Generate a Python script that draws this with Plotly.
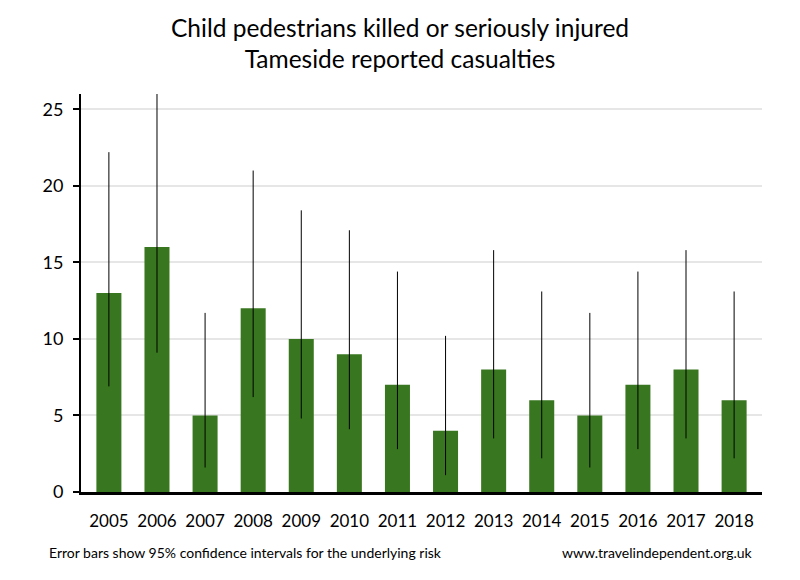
import plotly.graph_objects as go

years = ["2005", "2006", "2007", "2008", "2009", "2010", "2011", "2012", "2013", "2014", "2015", "2016", "2017", "2018"]
casualties = [13, 16, 5, 12, 10, 9, 7, 4, 8, 6, 5, 7, 8, 6]
ci_lower = [6.9, 9.1, 1.6, 6.2, 4.8, 4.1, 2.8, 1.1, 3.5, 2.2, 1.6, 2.8, 3.5, 2.2]
ci_upper = [22.2, 26.0, 11.7, 21.0, 18.4, 17.1, 14.4, 10.2, 15.8, 13.1, 11.7, 14.4, 15.8, 13.1]

err_plus = [u - v for u, v in zip(ci_upper, casualties)]
err_minus = [v - l for v, l in zip(casualties, ci_lower)]

FONT = "Lato, 'Open Sans', sans-serif"

fig = go.Figure()
fig.add_trace(go.Bar(
    x=years, y=casualties,
    marker=dict(color="#38761f", line=dict(width=0)),
    width=0.52,
    error_y=dict(type="data", symmetric=False, array=err_plus, arrayminus=err_minus,
                 color="black", thickness=1, width=0),
    showlegend=False,
))

fig.update_layout(
    width=800, height=580,
    paper_bgcolor="white", plot_bgcolor="white",
    margin=dict(l=81, r=38, t=94, b=88),
    font=dict(family=FONT, color="black"),
    title=dict(text="Child pedestrians killed or seriously injured<br>Tameside reported casualties",
               x=0.5, xanchor="center", y=0.937, yanchor="top",
               font=dict(size=24.5, family=FONT, color="black")),
)
fig.update_yaxes(
    range=[0, 26], tickvals=[0, 5, 10, 15, 20, 25],
    showgrid=True, gridcolor="#e6e6e6", gridwidth=2,
    showline=True, linecolor="black", linewidth=2,
    ticks="outside", ticklen=6, tickwidth=2, tickcolor="black",
    tickfont=dict(size=18, family=FONT), zeroline=False, ticklabelstandoff=6,
)
fig.update_xaxes(
    range=[-0.58, 13.58],
    showline=True, linecolor="black", linewidth=3,
    ticks="", tickfont=dict(size=17, family=FONT), ticklabelstandoff=12,
)
fig.add_annotation(text="Error bars show 95% confidence intervals for the underlying risk",
                   xref="paper", yref="paper", x=-0.05, y=-0.153, xanchor="left", yanchor="middle",
                   showarrow=False, font=dict(size=14, family=FONT))
fig.add_annotation(text="www.travelindependent.org.uk",
                   xref="paper", yref="paper", x=0.99, y=-0.153, xanchor="right", yanchor="middle",
                   showarrow=False, font=dict(size=14, family=FONT))

fig.write_html("out.html", config={"displayModeBar": False},
               post_script="document.body.style.margin='0';document.body.style.overflow='hidden';")
